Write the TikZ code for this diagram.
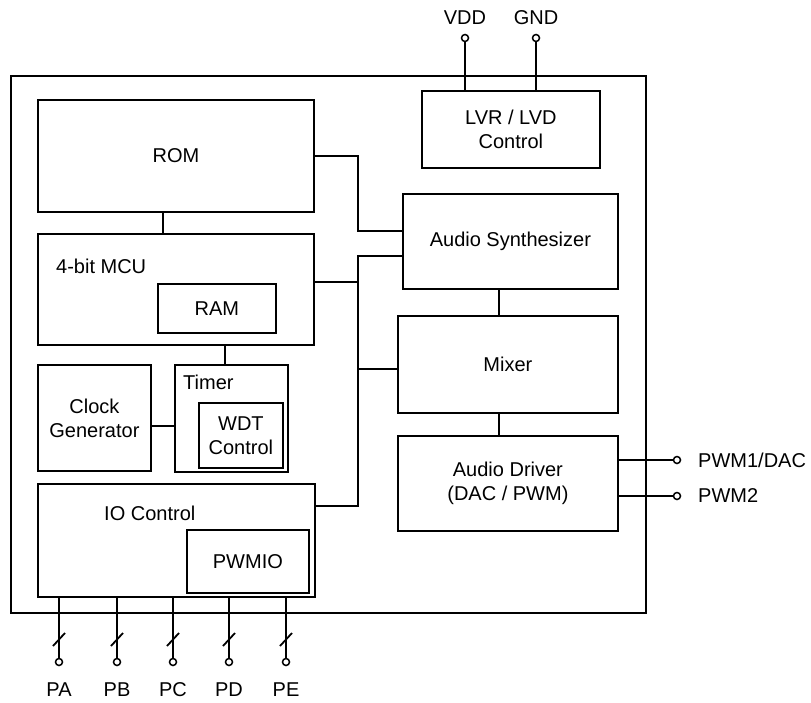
\documentclass[tikz,border=0pt]{standalone}
\usepackage{fontspec}
\setmainfont{Liberation Sans}
\begin{document}
\begin{tikzpicture}[x=1pt,y=-1pt,
  every node/.style={font=\fontsize{20}{24}\selectfont},
  blk/.style={draw, line width=1.8pt, inner sep=0pt, align=center, anchor=north west},
  wire/.style={line width=1.8pt},
  pin/.style={draw, circle, line width=1.5pt, inner sep=0pt, minimum size=7pt, fill=white},
  lbl/.style={inner sep=0pt}]
\useasboundingbox (0,0) rectangle (811,702);
% outer chip box
\node[blk, minimum width=635pt, minimum height=537pt] (chip) at (10,75) {};
% blocks
\node[blk, minimum width=178pt, minimum height=77pt] (lvr) at (421,90) {LVR / LVD\\Control};
\node[blk, minimum width=276pt, minimum height=112pt] (rom) at (37,99) {ROM};
\node[blk, minimum width=276pt, minimum height=111pt] (mcu) at (37,233) {};
\node[lbl, anchor=west] (mcul) at (56,266) {4-bit MCU};
\node[blk, minimum width=118pt, minimum height=49pt] (ram) at (157,283) {RAM};
\node[blk, minimum width=113pt, minimum height=106pt] (clk) at (37,364) {Clock\\Generator};
\node[blk, minimum width=113pt, minimum height=107pt] (timer) at (174,364) {};
\node[lbl, anchor=west] (timerl) at (183,382) {Timer};
\node[blk, minimum width=84pt, minimum height=65pt] (wdt) at (198,402) {WDT\\Control};
\node[blk, minimum width=277pt, minimum height=113pt] (io) at (37,483) {};
\node[lbl, anchor=west] (iol) at (104,513) {IO Control};
\node[blk, minimum width=122pt, minimum height=63pt] (pwmio) at (186,529) {PWMIO};
\node[blk, minimum width=215pt, minimum height=95pt] (synth) at (402,193) {Audio Synthesizer};
\node[blk, minimum width=220pt, minimum height=97pt] (mixer) at (397,315) {Mixer};
\node[blk, minimum width=220pt, minimum height=95pt] (driver) at (397,435) {Audio Driver\\(DAC / PWM)};
% internal connectors
\draw[wire] (rom.south -| 163,0) -- (mcu.north -| 163,0);
\draw[wire] (mcu.south -| 225,0) -- (timer.north -| 225,0);
\draw[wire] (clk.east |- 0,426) -- (timer.west |- 0,426);
\coordinate (b1) at (358,156);
\coordinate (b2) at (358,231);
\coordinate (b3) at (358,256);
\coordinate (b4) at (358,506);
\coordinate (bm) at (358,282);
\coordinate (bx) at (358,369);
\draw[wire] (rom.east |- b1) -- (b1) -- (b2) -- (synth.west |- b2);
\draw[wire] (synth.west |- b3) -- (b3) -- (b4) -- (io.east |- b4);
\draw[wire] (mcu.east |- bm) -- (bm);
\draw[wire] (bx) -- (mixer.west |- bx);
\draw[wire] (synth.south -| 499,0) -- (mixer.north -| 499,0);
\draw[wire] (mixer.south -| 499,0) -- (driver.north -| 499,0);
% power pins
\node[pin] (vddp) at (465,38) {};
\node[pin] (gndp) at (536,38) {};
\node[lbl] (vddl) at (465,18) {VDD};
\node[lbl] (gndl) at (536,18) {GND};
\draw[wire] (lvr.north -| vddp) -- (vddp);
\draw[wire] (lvr.north -| gndp) -- (gndp);
% output pins
\node[pin] (pwm1p) at (677,460) {};
\node[pin] (pwm2p) at (677,496) {};
\node[lbl, anchor=west] (pwm1l) at (698,460) {PWM1/DAC};
\node[lbl, anchor=west] (pwm2l) at (698,496) {PWM2};
\draw[wire] (driver.east |- pwm1p) -- (pwm1p);
\draw[wire] (driver.east |- pwm2p) -- (pwm2p);
% port pins
\foreach \x/\n in {59/PA,117/PB,173/PC,229/PD,286/PE}{
  \node[pin] (p\n) at (\x,662) {};
  \node[lbl] (l\n) at (\x,690) {\n};
  \draw[wire] (io.south -| p\n) -- (p\n);
  \draw[wire] (\x-6,646) -- (\x+6,633);
}
\end{tikzpicture}
\end{document}
